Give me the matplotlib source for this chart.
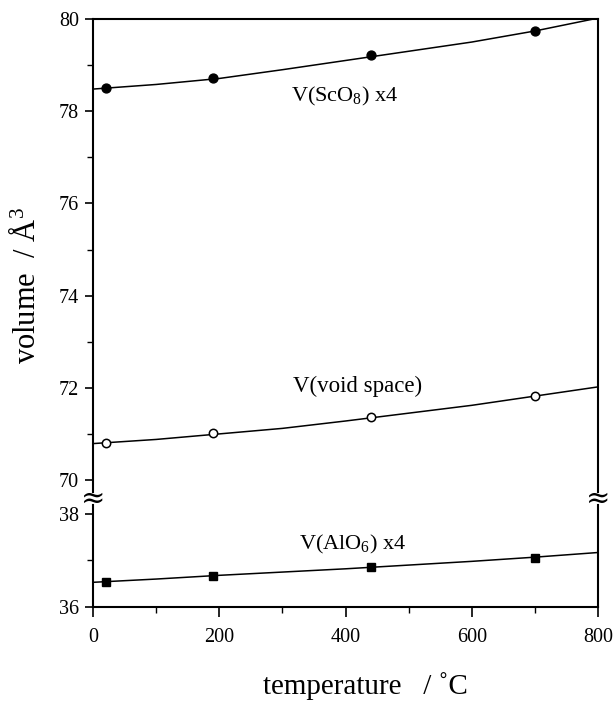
import matplotlib
matplotlib.use("Agg")
import matplotlib.pyplot as plt
from matplotlib.ticker import MultipleLocator

plt.rcParams["font.family"] = ["Liberation Serif", "DejaVu Serif"]
plt.rcParams["mathtext.fontset"] = "custom"
plt.rcParams["mathtext.rm"] = "Liberation Serif"
plt.rcParams["mathtext.it"] = "Liberation Serif:italic"

# measured points
temp = [20, 190, 440, 700]
v_sco8 = [78.50, 78.72, 79.21, 79.73]
v_void = [70.80, 71.01, 71.36, 71.82]
v_alo6 = [36.54, 36.67, 36.86, 37.06]

# fitted curves
fit_t = [0, 100, 200, 300, 400, 500, 600, 700, 800]
fit_sco8 = [78.48, 78.58, 78.71, 78.90, 79.10, 79.30, 79.50, 79.74, 80.02]
fit_void = [70.79, 70.88, 71.00, 71.12, 71.28, 71.45, 71.62, 71.82, 72.02]
fit_alo6 = [36.53, 36.60, 36.68, 36.75, 36.82, 36.90, 36.98, 37.07, 37.17]

W, H = 615, 706
fig = plt.figure(figsize=(W / 100, H / 100), dpi=100)

left = 93 / W
width = (598 - 93) / W
ax_top = fig.add_axes([left, 1 - 492 / H, width, (492 - 19) / H])
ax_bot = fig.add_axes([left, 1 - 607 / H, width, (607 - 505) / H])

lw_curve = 1.1
for ax in (ax_top, ax_bot):
    ax.set_xlim(0, 800)
    for s in ax.spines.values():
        s.set_linewidth(1.5)
    ax.tick_params(which="major", direction="out", length=6, width=1.2,
                   labelsize=14.5, pad=4, right=False, top=False)
    ax.tick_params(which="minor", direction="out", length=4, width=1.0,
                   right=False, top=False)
    ax.yaxis.set_major_locator(MultipleLocator(2))
    ax.yaxis.set_minor_locator(MultipleLocator(1))

ax_top.set_ylim(69.74, 80)
ax_top.spines["bottom"].set_visible(False)
ax_top.tick_params(axis="x", which="both", bottom=False, labelbottom=False)

ax_bot.set_ylim(36, 38.19)
ax_bot.spines["top"].set_visible(False)
ax_bot.xaxis.set_major_locator(MultipleLocator(200))
ax_bot.xaxis.set_minor_locator(MultipleLocator(100))
ax_bot.tick_params(axis="x", which="major", length=7, pad=8)

ax_top.plot(fit_t, fit_sco8, color="black", lw=lw_curve)
ax_top.plot(temp, v_sco8, "o", color="black", ms=6.4)
ax_top.plot(fit_t, fit_void, color="black", lw=lw_curve)
ax_top.plot(temp, v_void, "o", mfc="white", mec="black", mew=1.1, ms=6.0)
ax_bot.plot(fit_t, fit_alo6, color="black", lw=lw_curve)
ax_bot.plot(temp, v_alo6, "s", color="black", ms=6.0)

ax_top.text(314, 78.33, "V(ScO$_8$) x4", fontsize=16, va="center", ha="left")
ax_top.text(317, 72.04, "V(void space)", fontsize=16.5, va="center", ha="left")
ax_bot.text(326, 37.34, "V(AlO$_6$) x4", fontsize=16, va="center", ha="left")

# axis break marks
for xp in (93, 598):
    fig.text(xp / W, 1 - 499 / H, "\u2248", fontsize=21, ha="center",
             va="center", family=["DejaVu Serif"])

fig.text(365 / W, 1 - 686 / H, "temperature   / \u02daC", fontsize=21,
         ha="center", va="center")
fig.text(27 / W, 1 - 286 / H, "volume  / \u00c5$^3$", fontsize=22,
         ha="center", va="center", rotation=90)

fig.savefig("out.png", dpi=100)
